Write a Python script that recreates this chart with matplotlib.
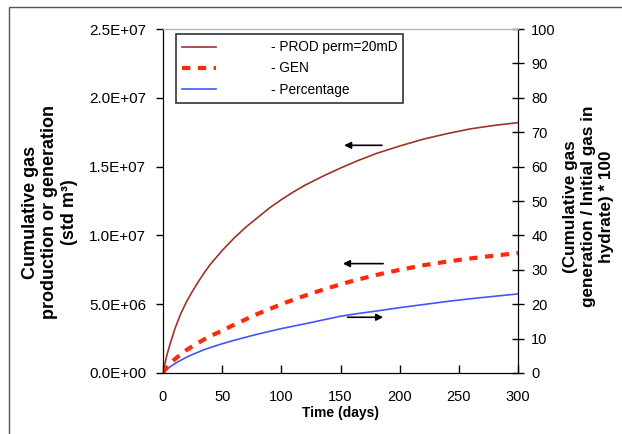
import matplotlib
matplotlib.use('Agg')
import matplotlib.pyplot as plt
from matplotlib.patches import Rectangle
from matplotlib.ticker import FuncFormatter, MultipleLocator

plt.rcParams['font.family'] = ['Liberation Sans', 'DejaVu Sans']

# data
days = [0, 3, 6, 10, 15, 20, 25, 30, 35, 40, 50, 60, 70, 80, 90, 100, 110, 120,
        135, 150, 165, 180, 200, 220, 240, 260, 280, 300]
prod = [0, 1.2, 2.1, 3.2, 4.3, 5.2, 5.95, 6.65, 7.3, 7.9, 8.9, 9.8, 10.6, 11.3,
        12.0, 12.6, 13.15, 13.65, 14.3, 14.9, 15.45, 15.95, 16.5, 17.0, 17.4,
        17.75, 18.0, 18.2]
gen = [0, 0.38, 0.7, 1.0, 1.35, 1.67, 1.95, 2.2, 2.45, 2.68, 3.08, 3.5, 3.9, 4.3,
       4.65, 5.0, 5.32, 5.62, 6.05, 6.45, 6.8, 7.12, 7.5, 7.83, 8.1, 8.33, 8.53, 8.72]
pct = [0, 0.95, 1.8, 2.7, 3.7, 4.6, 5.4, 6.1, 6.8, 7.4, 8.5, 9.5, 10.4, 11.3,
       12.1, 12.9, 13.6, 14.3, 15.4, 16.5, 17.3, 18.0, 19.0, 19.9, 20.8, 21.6,
       22.3, 23.0]
prod = [v * 1e6 for v in prod]
gen = [v * 1e6 for v in gen]

# arrows: (tail x, head x, y on left axis)
arrows = [(185, 153, 16.55e6), (186, 152, 7.95e6), (156, 186, 4.05e6)]

fig = plt.figure(figsize=(6.22, 4.34), dpi=100)
fig.subplots_adjust(left=0.262, right=0.833, bottom=0.1406, top=0.933)
ax = fig.add_subplot(111)
ax2 = ax.twinx()

l1, = ax.plot(days, prod, color='#9e3428', lw=1.2, label='- PROD perm=20mD')
l2, = ax.plot(days, gen, color='#ff2a0a', lw=3, dashes=(2, 1.8), label='- GEN')
l3, = ax2.plot(days, pct, color='#4455ff', lw=1.2, label='- Percentage')

for x0, x1, y in arrows:
    ax.annotate('', xy=(x1, y), xytext=(x0, y),
                arrowprops=dict(arrowstyle='-|>', color='black', lw=1.2,
                                mutation_scale=10, shrinkA=0, shrinkB=0))

ax.set_xlim(0, 300)
ax.set_ylim(0, 2.5e7)
ax2.set_ylim(0, 100)
ax.xaxis.set_major_locator(MultipleLocator(50))
ax.yaxis.set_major_locator(MultipleLocator(5e6))
ax2.yaxis.set_major_locator(MultipleLocator(10))
ax.yaxis.set_major_formatter(FuncFormatter(lambda v, p: f'{v:.1E}'))

ax.tick_params(axis='y', direction='out', length=5, width=1, pad=7, labelsize=11)
ax.tick_params(axis='x', direction='in', length=6, width=1, pad=12, labelsize=10.5)
ax2.tick_params(axis='y', direction='inout', length=9, width=1, pad=5, labelsize=10.5)

for a in (ax, ax2):
    a.spines['top'].set_color('#b4b4b4')
    for s in ('left', 'right', 'bottom'):
        a.spines[s].set_color('black')

ax.set_xlabel('Time (days)', fontsize=10, fontweight='bold', labelpad=2)
ax.set_ylabel('Cumulative gas\nproduction or generation\n(std m³)', fontsize=13,
              fontweight='bold', linespacing=1.2)
ax.yaxis.set_label_coords(-0.239, 0.467)
ax2.set_ylabel('(Cumulative gas\ngeneration / Initial gas in\nhydrate) * 100', fontsize=12.3,
               fontweight='bold', linespacing=1.25)
ax2.yaxis.set_label_coords(1.125, 0.484)

leg = ax.legend(handles=[l1, l2, l3], loc='upper left', bbox_to_anchor=(0.037, 0.985),
                borderaxespad=0, fontsize=9.8, frameon=True, fancybox=False,
                handlelength=2.5, handletextpad=4.0, labelspacing=0.52, borderpad=0.45)
leg.get_frame().set_edgecolor('black')
leg.get_frame().set_linewidth(1.2)
leg.set_zorder(5)
ax.set_zorder(ax2.get_zorder() + 1)
ax.patch.set_visible(False)

fig.patches.append(Rectangle((9 / 622, -0.1), 1.2, 1.1 - 7.5 / 434,
                             transform=fig.transFigure, fill=False,
                             edgecolor='#555555', lw=1))

fig.savefig('out.png', dpi=100)
